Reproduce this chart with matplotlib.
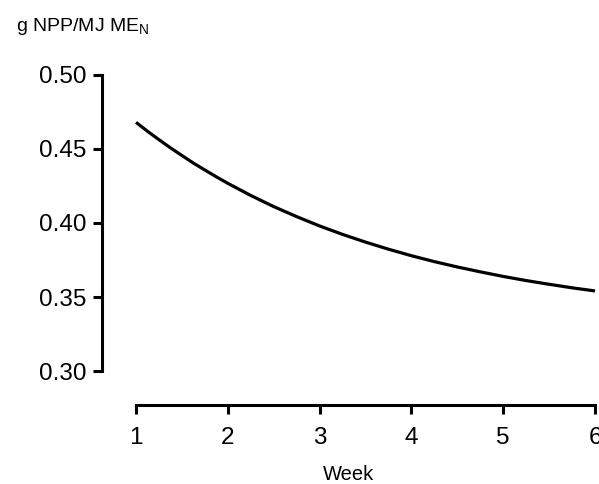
import matplotlib
matplotlib.use("Agg")
import matplotlib.pyplot as plt

weeks = [1.000, 1.125, 1.250, 1.375, 1.500, 1.625, 1.750, 1.875, 2.00, 2.25,
         2.50, 2.75, 3.00, 3.25, 3.50, 3.75, 4.00, 4.25, 4.50, 4.75, 5.00,
         5.25, 5.50, 5.75, 6.00]
npp_per_me = [0.4680, 0.4620, 0.4563, 0.4508, 0.4456, 0.4405, 0.4358, 0.4312,
              0.4268, 0.4186, 0.4111, 0.4043, 0.3980, 0.3923, 0.3871, 0.3823,
              0.3779, 0.3739, 0.3703, 0.3670, 0.3639, 0.3611, 0.3586, 0.3562,
              0.3541]
xticks = [1, 2, 3, 4, 5, 6]
yticks = [0.30, 0.35, 0.40, 0.45, 0.50]
ytick_labels = ["0.30", "0.35", "0.40", "0.45", "0.50"]

plt.rcParams['font.family'] = ['Liberation Sans', 'DejaVu Sans']
plt.rcParams['mathtext.fontset'] = 'custom'
plt.rcParams['mathtext.rm'] = 'Liberation Sans'
plt.rcParams['mathtext.it'] = 'Liberation Sans'

W, H = 599, 484
fig = plt.figure(figsize=(W/100, H/100), dpi=100)
ax = fig.add_axes([102/W, (H-405)/H, (W-102)/W, (405-60)/H])

ax.plot(weeks, npp_per_me, color='black', lw=2.3, solid_capstyle='butt',
        solid_joinstyle='round')

ax.set_xlim(1 - 34/91.8, 6 + 4/91.8)
ax.set_ylim(0.30 - 34/1480, 0.50 + 15/1480)

for s in ['top', 'right']:
    ax.spines[s].set_visible(False)
for s in ['left', 'bottom']:
    ax.spines[s].set_linewidth(2.2)
    ax.spines[s].set_capstyle('projecting')
ax.spines['left'].set_bounds(0.30, 0.50)
ax.spines['bottom'].set_bounds(1, 6)

ax.set_xticks(xticks)
ax.set_xticklabels([str(x) for x in xticks])
ax.set_yticks(yticks)
ax.set_yticklabels(ytick_labels)
ax.tick_params(axis='both', width=2.2, length=6.5, labelsize=17.5, color='black')
ax.tick_params(axis='x', pad=9)
ax.tick_params(axis='y', pad=5)

fig.text(349/W, 1 - 480/H, 'Week', fontsize=14.5, ha='center', va='baseline')
fig.text(16/W, 1 - 31/H, r'g NPP/MJ ME$_\mathrm{N}$', fontsize=14, ha='left', va='baseline')

fig.savefig('out.png', dpi=100)
